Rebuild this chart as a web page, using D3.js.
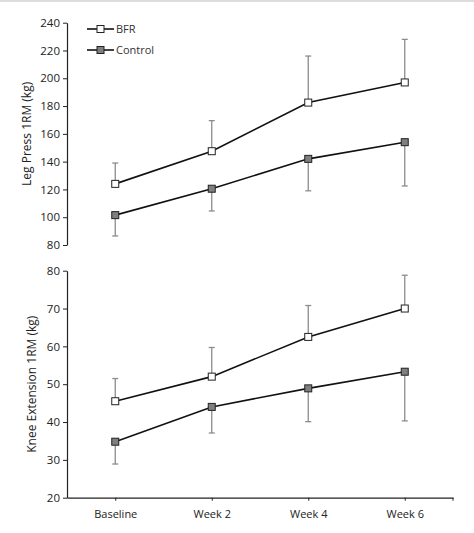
<!DOCTYPE html>
<html><head><meta charset="utf-8">
<script src="https://cdn.jsdelivr.net/npm/d3@7"></script>
<style>body{margin:0;background:#fff}svg{display:block}</style>
</head><body>
<script>
const categories = ["Baseline", "Week 2", "Week 4", "Week 6"];
const seriesNames = ["BFR", "Control"];
// Leg press 1RM (kg)
const legBFR = [124, 147.5, 182.5, 197];
const legBFRErr = [15, 22, 33.5, 31];      // upward SD
const legControl = [101.5, 120.5, 142, 154];
const legControlErr = [15, 16, 23, 31.5];  // downward SD
// Knee extension 1RM (kg)
const kneeBFR = [45.5, 52, 62.5, 70];
const kneeBFRErr = [6, 7.7, 8.3, 8.8];
const kneeControl = [34.8, 44, 48.9, 53.3];
const kneeControlErr = [5.9, 6.9, 8.8, 13];
const legTicks = [80, 100, 120, 140, 160, 180, 200, 220, 240];
const kneeTicks = [20, 30, 40, 50, 60, 70, 80];

const W = 474, H = 533;
const svg = d3.select("body").append("svg").attr("width", W).attr("height", H);
svg.append("rect").attr("width", W).attr("height", H).attr("fill", "#fff");
svg.append("rect").attr("x",0).attr("y",0).attr("width",W).attr("height",2).attr("fill","#dcdcdc");

const font = "'Open Sans', 'Liberation Sans', sans-serif";
const x = d3.scalePoint().domain(categories).range([67, 453]).padding(0.5);

function panel(yRange, domain, ticks, bfr, bfrErr, ctl, ctlErr, title, titleX, showX) {
  const y = d3.scaleLinear().domain(domain).range(yRange);
  const g = svg.append("g");
  const yAxis = d3.axisLeft(y).tickValues(ticks).tickSize(4).tickSizeOuter(0);
  const ga = g.append("g").attr("transform", "translate(67,0)").call(yAxis);
  ga.select(".domain").attr("stroke", "#222").attr("stroke-width", 1.2);
  ga.selectAll(".tick line").attr("stroke", "#222");
  ga.selectAll(".tick text").attr("font-family", font).attr("font-size", 11.5).attr("fill", "#222").attr("x", -7);
  g.append("text").attr("transform", `translate(${titleX},${(yRange[0]+yRange[1])/2}) rotate(-90)`)
    .attr("text-anchor", "middle").attr("font-family", font).attr("font-size", 12).attr("fill", "#222").text(title);

  if (showX) {
    const xa = g.append("g").attr("transform", `translate(0,${yRange[0]})`)
      .call(d3.axisBottom(x).tickSize(3).tickSizeOuter(0));
    xa.select(".domain").attr("stroke", "#222").attr("stroke-width", 1.2);
    xa.selectAll(".tick line").attr("stroke", "#222");
    xa.selectAll(".tick text").attr("font-family", font).attr("font-size", 11).attr("fill", "#222").attr("y", 13);
    xa.append("line").attr("x1", 453).attr("x2", 453).attr("y1", 0).attr("y2", 3).attr("stroke", "#222");
  }

  const line = d3.line().x((d, i) => x(categories[i])).y(d => y(d));
  const errColor = "#8c8c8c";
  [[bfr, bfrErr, 1], [ctl, ctlErr, -1]].forEach(([vals, errs, dir]) => {
    vals.forEach((v, i) => {
      const cx = x(categories[i]);
      const yEnd = y(v + dir * errs[i]);
      g.append("line").attr("x1", cx).attr("x2", cx).attr("y1", y(v)).attr("y2", yEnd)
        .attr("stroke", errColor).attr("stroke-width", 1.3);
      g.append("line").attr("x1", cx - 3).attr("x2", cx + 3).attr("y1", yEnd).attr("y2", yEnd)
        .attr("stroke", errColor).attr("stroke-width", 1.3);
    });
  });
  [[bfr, "#fff"], [ctl, "#7f7f7f"]].forEach(([vals, fill]) => {
    g.append("path").datum(vals).attr("d", line).attr("fill", "none").attr("stroke", "#111").attr("stroke-width", 1.6);
    g.selectAll(null).data(vals).enter().append("rect")
      .attr("x", (d, i) => x(categories[i]) - 3.5).attr("y", d => y(d) - 3.5)
      .attr("width", 7).attr("height", 7).attr("fill", fill).attr("stroke", "#222").attr("stroke-width", 1);
  });
}

panel([245, 22.7], [80, 240], legTicks, legBFR, legBFRErr, legControl, legControlErr, "Leg Press 1RM (kg)", 31, false);
panel([497.7, 270.7], [20, 80], kneeTicks, kneeBFR, kneeBFRErr, kneeControl, kneeControlErr, "Knee Extension 1RM (kg)", 36, true);

const lg = svg.append("g");
seriesNames.forEach((name, i) => {
  const ly = 29 + i * 21;
  lg.append("line").attr("x1", 87).attr("x2", 114).attr("y1", ly).attr("y2", ly).attr("stroke", "#111").attr("stroke-width", 1.6);
  lg.append("rect").attr("x", 97).attr("y", ly - 3.5).attr("width", 7).attr("height", 7)
    .attr("fill", i === 0 ? "#fff" : "#7f7f7f").attr("stroke", "#222");
  lg.append("text").attr("x", 116).attr("y", ly + 4).attr("font-family", font).attr("font-size", 11).attr("fill", "#333").text(name);
});
</script>
</body></html>
